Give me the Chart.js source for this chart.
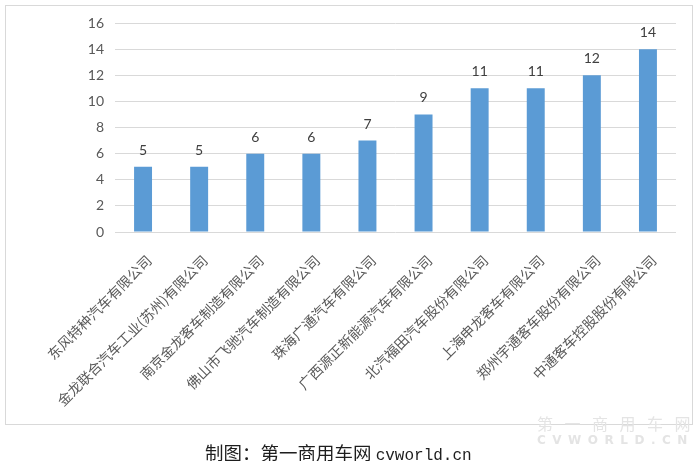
<!DOCTYPE html>
<html>
<head>
<meta charset="utf-8">
<script src="https://cdn.jsdelivr.net/npm/chart.js@4"></script>
<style>
  html, body { margin: 0; padding: 0; background: #fff; }
  #wrap { position: relative; width: 700px; height: 461px; overflow: hidden; }
  #moldura { position: absolute; left: 5px; top: 5px; width: 688px; height: 420px; border: 1px solid #d9d9d9; box-sizing: border-box; }
  canvas { position: absolute; left: 0; top: 0; }
  #legenda { position: absolute; left: 205px; top: 441px; white-space: nowrap; font-family: "Noto Sans CJK SC"; font-size: 18.5px; color: #1e1e1e; line-height: 22px; }
  #legenda span { font-family: "Liberation Mono", monospace; font-size: 16px; }
  #marca { position: absolute; left: 537px; top: 415px; white-space: nowrap; color: #e4e4e4; font-family: "Noto Sans CJK SC"; line-height: 17px; }
  #marca .l1 { font-size: 16px; letter-spacing: 11.5px; }
  #marca .l2 { font-family: "DejaVu Sans"; font-weight: bold; font-size: 12px; letter-spacing: 6.5px; }
</style>
</head>
<body>
<div id="wrap">
  <div id="moldura"></div>
  <canvas id="grafico" width="700" height="461"></canvas>
  <div id="marca"><div class="l1">第一商用车网</div><div class="l2">CVWORLD.CN</div></div>
  <div id="legenda">制图：第一商用车网 <span>cvworld.cn</span></div>
</div>
<script>
// categorias e valores
const empresas = [
  '东风特种汽车有限公司',
  '金龙联合汽车工业(苏州)有限公司',
  '南京金龙客车制造有限公司',
  '佛山市飞驰汽车制造有限公司',
  '珠海广通汽车有限公司',
  '广西源正新能源汽车有限公司',
  '北汽福田汽车股份有限公司',
  '上海申龙客车有限公司',
  '郑州宇通客车股份有限公司',
  '中通客车控股股份有限公司',
];
const quantidades = [5, 5, 6, 6, 7, 9, 11, 11, 12, 14];
const eixoY = { min: 0, max: 16, passo: 2 };

const COR_BARRA = '#5B9BD5';
const COR_GRADE = '#d9d9d9';
const COR_TEXTO = '#595959';

// rótulo de valor em cima de cada barra
const rotulosValor = {
  id: 'rotulosValor',
  afterDatasetsDraw(chart) {
    const { ctx } = chart;
    const meta = chart.getDatasetMeta(0);
    ctx.save();
    ctx.font = '14px Lato';
    ctx.fillStyle = '#404040';
    ctx.textAlign = 'center';
    ctx.textBaseline = 'alphabetic';
    meta.data.forEach((bar, i) => {
      ctx.fillText(String(quantidades[i]), bar.x, bar.y - 12);
    });
    ctx.restore();
  },
};

// desloca um pouco os rótulos inclinados do eixo x para a direita (como no Excel)
const deslocaRotulosX = {
  id: 'deslocaRotulosX',
  afterLayout(chart) {
    const x = chart.scales.x;
    if (x._deslocado) return;
    const orig = x.drawLabels.bind(x);
    x.drawLabels = (area) => {
      chart.ctx.save();
      chart.ctx.translate(6, 0);
      orig(area);
      chart.ctx.restore();
    };
    x._deslocado = true;
  },
};

new Chart(document.getElementById('grafico'), {
  type: 'bar',
  data: {
    labels: empresas,
    datasets: [{
      data: quantidades,
      backgroundColor: COR_BARRA,
      borderWidth: 0,
      barPercentage: 0.32,
      categoryPercentage: 1,
    }],
  },
  options: {
    responsive: false,
    animation: false,
    layout: { padding: { top: 23, right: 24, left: 0, bottom: 0 } },
    plugins: { legend: { display: false }, tooltip: { enabled: false } },
    scales: {
      x: {
        grid: { display: false },
        border: { display: false },
        ticks: {
          color: COR_TEXTO,
          font: { family: 'Noto Sans CJK SC', size: 14 },
          minRotation: 45, maxRotation: 45,
          autoSkip: false,
          padding: 12,
        },
        afterFit: (s) => { s.height = 229; },
      },
      y: {
        min: eixoY.min, max: eixoY.max,
        grid: { color: COR_GRADE, lineWidth: 1, drawTicks: false },
        border: { display: false },
        ticks: {
          stepSize: eixoY.passo,
          color: COR_TEXTO,
          font: { family: 'Lato', size: 14 },
          padding: 11,
        },
        afterFit: (s) => { s.width = 115; },
      },
    },
  },
  plugins: [rotulosValor, deslocaRotulosX],
});
</script>
</body>
</html>
